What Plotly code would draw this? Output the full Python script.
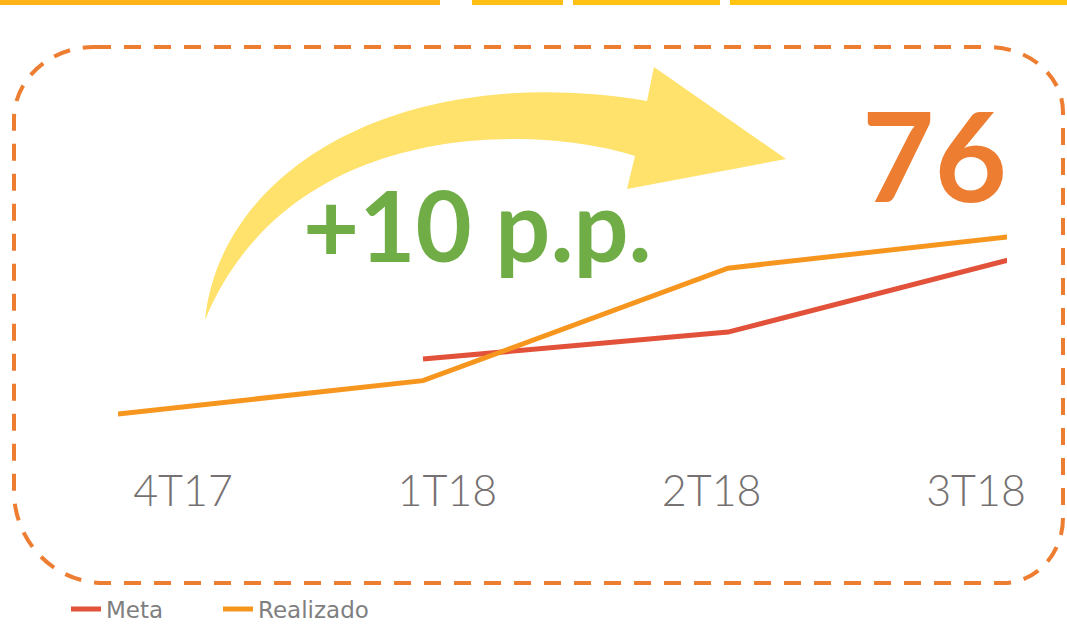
import plotly.graph_objects as go

W, H = 1067, 624

# data
trimestres = ["4T17", "1T18", "2T18", "3T18"]
meta = [None, 69.05, 70.55, 74.9]
realizado = [66.0, 67.85, 74.1, 76.0]
ganho_pp = 10
ultimo = 76


def pt(x, y):
    # pixel -> paper coords
    return f"{x / W:.5f},{1 - y / H:.5f}"


fig = go.Figure()
fig.add_trace(go.Scatter(x=trimestres, y=meta, mode='lines', name='Meta',
                         line=dict(width=5, color='#E2523A'), legend='legend'))
fig.add_trace(go.Scatter(x=trimestres, y=realizado, mode='lines', name='Realizado',
                         line=dict(width=5, color='#F7961F'), legend='legend2'))
# invisible trace that only carries the category labels of the second x axis
fig.add_trace(go.Scatter(x=trimestres, y=[None] * 4, xaxis='x2', showlegend=False,
                         hoverinfo='skip'))

shapes = []

# top yellow bar (pieces of the banner above)
for x0, x1, c in [(0, 440, '#FBB318'), (472, 563, '#FEBF14'),
                  (573, 720, '#FEC114'), (730, 1067, '#FFC511')]:
    shapes.append(dict(type='rect', xref='paper', yref='paper',
                       x0=x0 / W, x1=x1 / W, y0=1 - 5 / H, y1=1,
                       fillcolor=c, line=dict(width=0), layer='below'))

# dashed rounded frame
L, R, T, B = 14, 1063, 47, 583
k = 0.5523
tl, tr, br, bl = (80, 72), (75, 65), (60, 65), (90, 92)
frame = (
    f"M {pt(L + tl[0], T)} L {pt(R - tr[0], T)} "
    f"C {pt(R - tr[0] + k * tr[0], T)} {pt(R, T + tr[1] - k * tr[1])} {pt(R, T + tr[1])} "
    f"L {pt(R, B - br[1])} "
    f"C {pt(R, B - br[1] + k * br[1])} {pt(R - br[0] + k * br[0], B)} {pt(R - br[0], B)} "
    f"L {pt(L + bl[0], B)} "
    f"C {pt(L + bl[0] - k * bl[0], B)} {pt(L, B - bl[1] + k * bl[1])} {pt(L, B - bl[1])} "
    f"L {pt(L, T + tl[1])} "
    f"C {pt(L, T + tl[1] - k * tl[1])} {pt(L + tl[0] - k * tl[0], T)} {pt(L + tl[0], T)} Z"
)
shapes.append(dict(type='path', xref='paper', yref='paper', path=frame,
                   line=dict(color='#ED7D31', width=4, dash='17px,13px'),
                   layer='below'))

# curved yellow arrow
arrow = (
    f"M {pt(205, 320)} C {pt(220, 170)} {pt(400, 60)} {pt(647, 101)} "
    f"L {pt(654, 67)} L {pt(786, 159)} L {pt(627, 189)} L {pt(635, 156)} "
    f"C {pt(540, 125)} {pt(290, 115)} {pt(205, 320)} Z"
)
shapes.append(dict(type='path', xref='paper', yref='paper', path=arrow,
                   fillcolor='#FFE26B', line=dict(width=0), layer='below'))

annotations = [
    dict(text=f"+{ganho_pp} p.p.", x=477 / W, y=1 - 224 / H, xref='paper', yref='paper',
         showarrow=False, xanchor='center', yanchor='middle',
         font=dict(family='Lato', size=97, color='#70AD47', weight='bold')),
    dict(text=str(ultimo), x=934 / W, y=1 - 154 / H, xref='paper', yref='paper',
         showarrow=False, xanchor='center', yanchor='middle',
         font=dict(family='Lato', size=125, color='#ED7D31', weight='bold')),
]

legend_font = dict(family='DejaVu Sans', size=23, color='#7F7F7F')

# lines: one category every 305px from px 118, cut off at px 1007 (the chart is cropped)
step = 305
line_r1 = (1007 - 118) / step
# labels sit at px 183..976 on the same (overlaid) domain
s = (976 - 183) / 3
lab_r0 = -(183 - 118) / s
lab_r1 = lab_r0 + (1007 - 118) / s

fig.update_layout(
    width=W, height=H, margin=dict(l=0, r=0, t=0, b=0, pad=0, autoexpand=False),
    plot_bgcolor='white', paper_bgcolor='white',
    shapes=shapes, annotations=annotations,
    xaxis=dict(type='category', domain=[118 / W, 1007 / W], range=[0, line_r1],
               automargin=False, showticklabels=False, showgrid=False, zeroline=False,
               showline=False),
    xaxis2=dict(type='category', overlaying='x', anchor='free', position=1 - 462 / H,
                range=[lab_r0, lab_r1], automargin=False,
                showgrid=False, zeroline=False, showline=False, ticks='',
                tickfont=dict(family='Lato', size=43, color='#767171', weight=300)),
    yaxis=dict(range=[54.33, 89.0], visible=False, showgrid=False, zeroline=False,
               automargin=False),
    legend=dict(orientation='h', x=66 / W, y=1 - 609 / H, xanchor='left', yanchor='middle',
                font=legend_font, bgcolor='rgba(0,0,0,0)'),
    legend2=dict(orientation='h', x=218 / W, y=1 - 609 / H, xanchor='left', yanchor='middle',
                 font=legend_font, bgcolor='rgba(0,0,0,0)'),
    showlegend=True,
)

# the page body has an 8px default margin; drop it so the figure sits at the corner
fig.write_html("out.html", config={'displayModeBar': False},
               post_script="document.body.style.margin='0';")
